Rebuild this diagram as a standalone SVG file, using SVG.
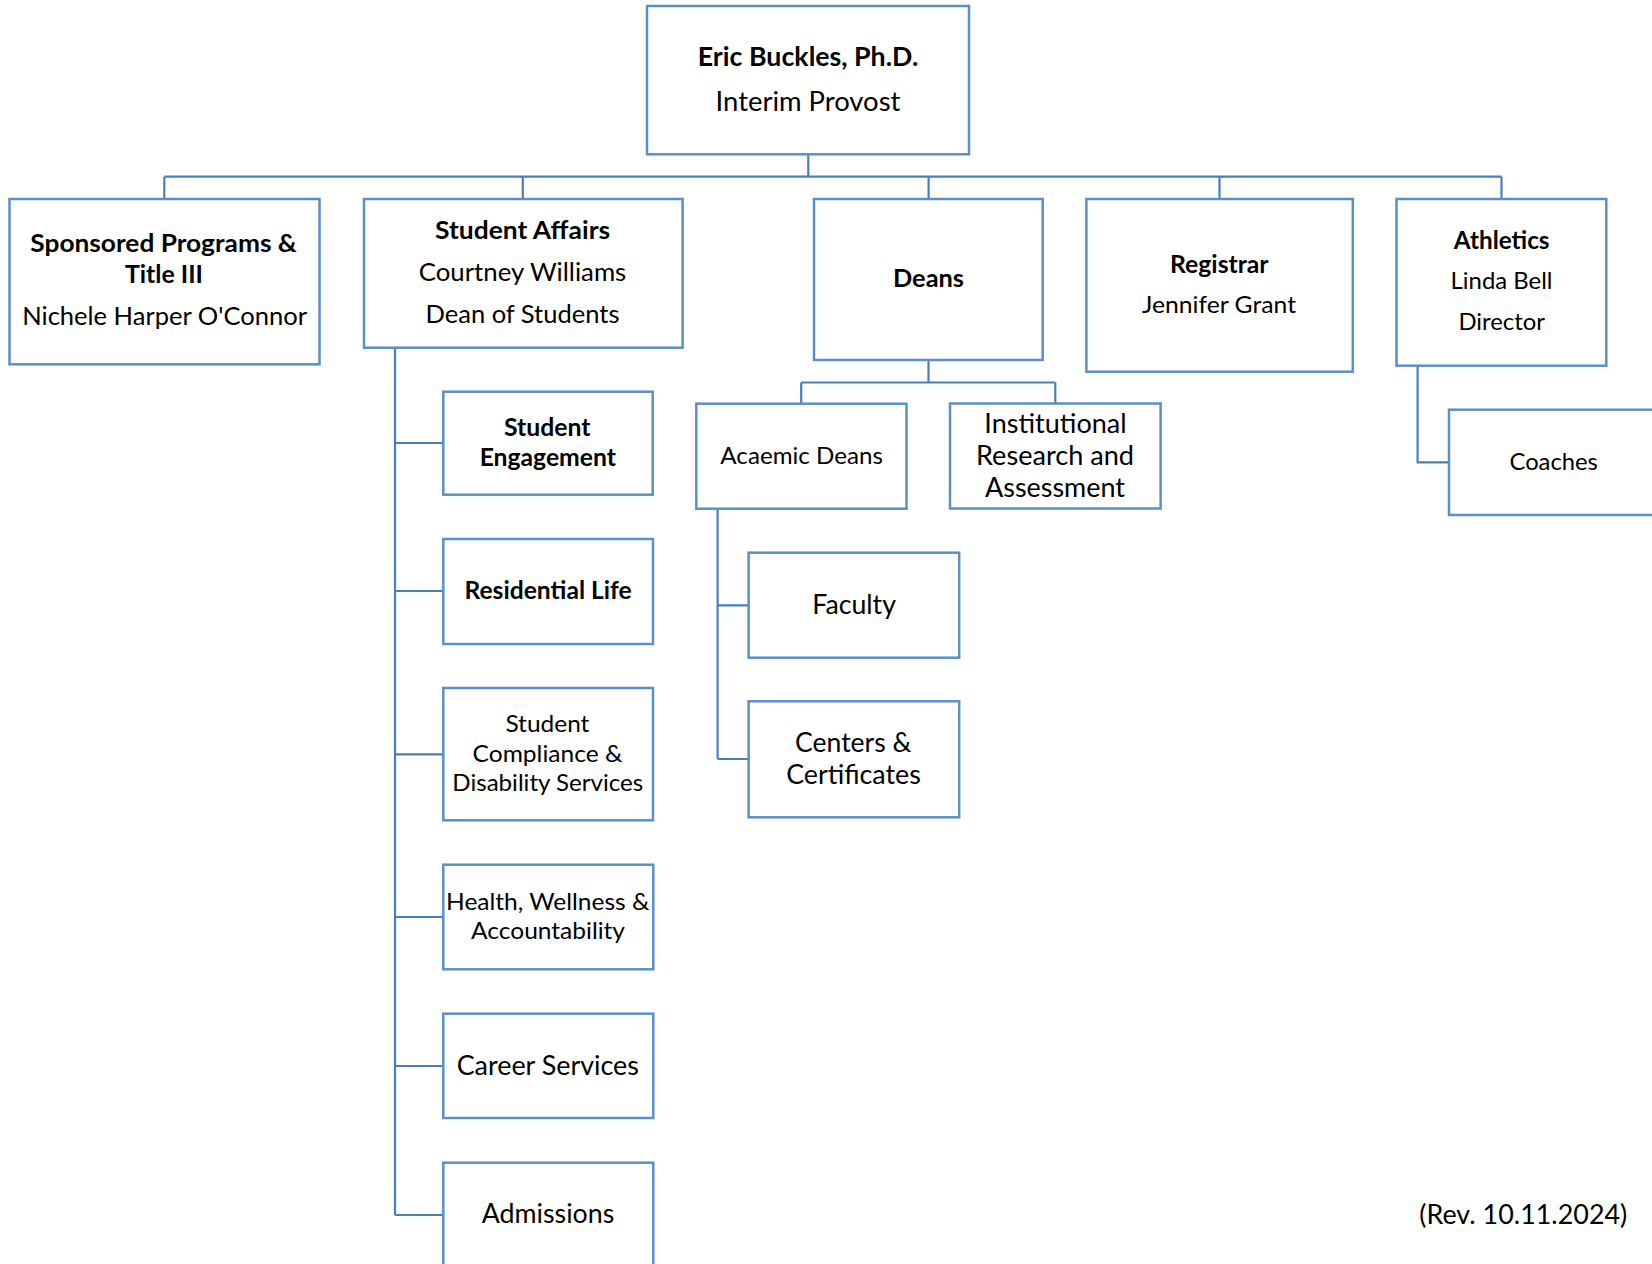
<svg xmlns="http://www.w3.org/2000/svg" width="1652" height="1264" viewBox="0 0 1652 1264">
<style>
.box{fill:#ffffff;stroke:#5b8fc7;stroke-width:2.5}
.ln{fill:none;stroke:#4a7ebb;stroke-width:2.2}
text{font-family:Lato,"Open Sans","Liberation Sans",sans-serif;fill:#000;text-anchor:middle}
.b{font-weight:700}
.s23{font-size:23px}.s24{font-size:24px}.s25{font-size:25px}.s26{font-size:26px}
</style>
<rect width="1652" height="1264" fill="#ffffff"/>
<g id="connectors">
<path class="ln" d="M808.3,154.3V176.7M164.3,176.7H1501.6M164.3,176.7V199M522.8,176.7V199M928.6,176.7V199M1219.5,176.7V199M1501.5,176.7V199"/>
<path class="ln" d="M395,347.7V1215M395,443H443.3M395,591H443.3M395,754.3H443.3M395,917H443.3M395,1066H443.3M395,1215H443.3"/>
<path class="ln" d="M928.5,360V382.5M801.2,382.5H1055.3M801.2,382.5V403.7M1055.3,382.5V403.5"/>
<path class="ln" d="M717.6,508.7V759M717.6,605.3H748.6M717.6,759H748.6"/>
<path class="ln" d="M1417.6,365.7V462.3H1449"/>
</g>
<g id="provost">
<rect class="box" x="647" y="6" width="322" height="148.3"/>
<text class="b s26" x="808" y="65.5" textLength="220.5" lengthAdjust="spacingAndGlyphs">Eric Buckles, Ph.D.</text>
<text class="s26" x="808" y="110.7" textLength="184.8" lengthAdjust="spacingAndGlyphs">Interim Provost</text>
</g>
<g id="sponsored">
<rect class="box" x="9.5" y="199" width="310" height="165.3"/>
<text class="b s25" x="163.6" y="252.3" textLength="266.5" lengthAdjust="spacingAndGlyphs">Sponsored Programs &amp;</text>
<text class="b s25" x="164" y="283.3" textLength="78" lengthAdjust="spacingAndGlyphs">Title III</text>
<text class="s25" x="164.6" y="325" textLength="284.7" lengthAdjust="spacingAndGlyphs">Nichele Harper O'Connor</text>
</g>
<g id="student-affairs">
<rect class="box" x="364" y="199" width="318.6" height="148.7"/>
<text class="b s25" x="522.6" y="239" textLength="175" lengthAdjust="spacingAndGlyphs">Student Affairs</text>
<text class="s25" x="522.5" y="281" textLength="207.5" lengthAdjust="spacingAndGlyphs">Courtney Williams</text>
<text class="s25" x="522.5" y="323.3" textLength="194" lengthAdjust="spacingAndGlyphs">Dean of Students</text>
</g>
<g id="deans">
<rect class="box" x="814" y="199" width="228.7" height="161"/>
<text class="b s25" x="928.5" y="286.7" textLength="71" lengthAdjust="spacingAndGlyphs">Deans</text>
</g>
<g id="registrar">
<rect class="box" x="1086.4" y="199" width="266.4" height="172.7"/>
<text class="b s24" x="1219.3" y="272.7" textLength="98.6" lengthAdjust="spacingAndGlyphs">Registrar</text>
<text class="s24" x="1219" y="313.3" textLength="154" lengthAdjust="spacingAndGlyphs">Jennifer Grant</text>
</g>
<g id="athletics">
<rect class="box" x="1396.5" y="199" width="209.8" height="166.7"/>
<text class="b s24" x="1501.7" y="249" textLength="95.7" lengthAdjust="spacingAndGlyphs">Athletics</text>
<text class="s23" x="1501.5" y="289.3" textLength="102" lengthAdjust="spacingAndGlyphs">Linda Bell</text>
<text class="s23" x="1501.7" y="330" textLength="86.6" lengthAdjust="spacingAndGlyphs">Director</text>
</g>
<g id="coaches">
<rect class="box" x="1449" y="409.7" width="210" height="105.3"/>
<text class="s24" x="1553.7" y="470" textLength="88.4" lengthAdjust="spacingAndGlyphs">Coaches</text>
</g>
<g id="student-engagement">
<rect class="box" x="443.3" y="391.7" width="209.4" height="103"/>
<text class="b s25" x="547.3" y="436" textLength="86.5" lengthAdjust="spacingAndGlyphs">Student</text>
<text class="b s25" x="547.8" y="465.7" textLength="136.3" lengthAdjust="spacingAndGlyphs">Engagement</text>
</g>
<g id="residential-life">
<rect class="box" x="443.3" y="539" width="209.7" height="105"/>
<text class="b s25" x="548.1" y="599" textLength="167.3" lengthAdjust="spacingAndGlyphs">Residential Life</text>
</g>
<g id="student-compliance">
<rect class="box" x="443.3" y="688" width="209.7" height="132.3"/>
<text class="s24" x="547.4" y="732.3" textLength="84" lengthAdjust="spacingAndGlyphs">Student</text>
<text class="s24" x="547.5" y="761.7" textLength="149.8" lengthAdjust="spacingAndGlyphs">Compliance &amp;</text>
<text class="s24" x="547.8" y="790.7" textLength="191" lengthAdjust="spacingAndGlyphs">Disability Services</text>
</g>
<g id="health-wellness">
<rect class="box" x="443.3" y="864.7" width="210" height="104.6"/>
<text class="s24" x="547.7" y="910" textLength="203.3" lengthAdjust="spacingAndGlyphs">Health, Wellness &amp;</text>
<text class="s24" x="548" y="939.3" textLength="154" lengthAdjust="spacingAndGlyphs">Accountability</text>
</g>
<g id="career-services">
<rect class="box" x="443.3" y="1013.7" width="210" height="104.3"/>
<text class="s26" x="547.8" y="1075" textLength="182.3" lengthAdjust="spacingAndGlyphs">Career Services</text>
</g>
<g id="admissions">
<rect class="box" x="443.3" y="1162.7" width="210" height="105.3"/>
<text class="s26" x="548" y="1222.7" textLength="132.7" lengthAdjust="spacingAndGlyphs">Admissions</text>
</g>
<g id="academic-deans">
<rect class="box" x="696.3" y="403.7" width="210.2" height="105"/>
<text class="s24" x="801.6" y="464.3" textLength="162.5" lengthAdjust="spacingAndGlyphs">Acaemic Deans</text>
</g>
<g id="institutional-research">
<rect class="box" x="950" y="403.5" width="210.6" height="105"/>
<text class="s26" x="1055.5" y="433.3" textLength="142.3" lengthAdjust="spacingAndGlyphs">Institutional</text>
<text class="s26" x="1055" y="465" textLength="158" lengthAdjust="spacingAndGlyphs">Research and</text>
<text class="s26" x="1055" y="497.3" textLength="140" lengthAdjust="spacingAndGlyphs">Assessment</text>
</g>
<g id="faculty">
<rect class="box" x="748.6" y="552.7" width="210.6" height="105"/>
<text class="s26" x="854.1" y="614" textLength="83.7" lengthAdjust="spacingAndGlyphs">Faculty</text>
</g>
<g id="centers">
<rect class="box" x="748.6" y="701.3" width="210.6" height="116"/>
<text class="s26" x="853.2" y="751.7" textLength="116.3" lengthAdjust="spacingAndGlyphs">Centers &amp;</text>
<text class="s26" x="853.5" y="784" textLength="134.7" lengthAdjust="spacingAndGlyphs">Certificates</text>
</g>
<text class="s26" x="1523.3" y="1224" textLength="208" lengthAdjust="spacingAndGlyphs">(Rev. 10.11.2024)</text>
</svg>
